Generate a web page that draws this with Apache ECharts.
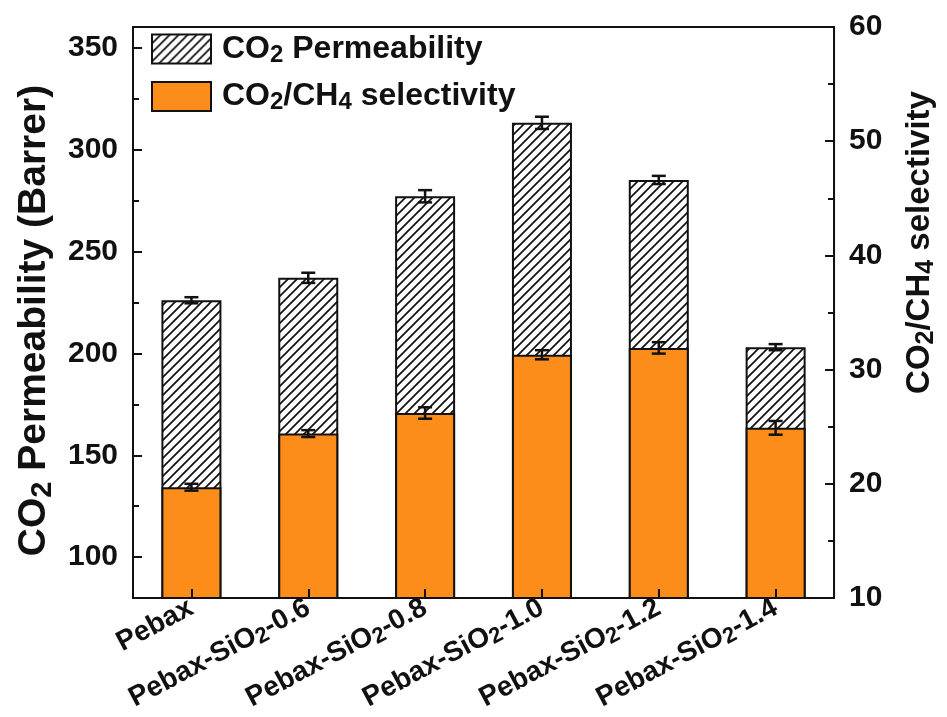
<!DOCTYPE html>
<html>
<head>
<meta charset="utf-8">
<script src="https://cdn.jsdelivr.net/npm/echarts@6/dist/echarts.min.js"></script>
<style>
html,body{margin:0;padding:0;background:#fff;}
#chart{width:947px;height:717px;}
</style>
</head>
<body>
<div id="chart"></div>
<script>
// ---- data ----
const categories = ['Pebax', 'Pebax-SiO2-0.6', 'Pebax-SiO2-0.8', 'Pebax-SiO2-1.0', 'Pebax-SiO2-1.2', 'Pebax-SiO2-1.4'];
const permeability = [226, 237, 277, 313, 285, 203];
const permeabilityErr = [1.5, 2.5, 3, 3, 2, 1.5];
const selectivity = [19.7, 24.4, 26.2, 31.3, 31.9, 24.9];
const selectivityErr = [0.3, 0.3, 0.5, 0.4, 0.5, 0.6];
const leftTicks = [100, 150, 200, 250, 300, 350];
const leftMinorTicks = [125, 175, 225, 275, 325];
const rightTicks = [10, 20, 30, 40, 50, 60];

const FONT = 'Liberation Sans, Arial, sans-serif';

// hatch pattern
const pc = document.createElement('canvas');
pc.width = 9; pc.height = 9;
const g = pc.getContext('2d');
g.fillStyle = '#fff'; g.fillRect(0, 0, 9, 9);
g.strokeStyle = '#111'; g.lineWidth = 1.7;
g.beginPath();
g.moveTo(-1, 10); g.lineTo(10, -1);
g.moveTo(-1, 1); g.lineTo(1, -1);
g.moveTo(8, 10); g.lineTo(10, 8);
g.stroke();
const hatch = { image: pc, repeat: 'repeat' };

const ORANGE = '#FC8D1A';

function subRich(main, sub) {
  return {
    b: { fontSize: main, fontWeight: 'bold', fontFamily: FONT, color: '#111', lineHeight: main * 1.15 },
    s: { fontSize: sub, fontWeight: 'bold', fontFamily: FONT, color: '#111', verticalAlign: 'bottom', lineHeight: sub * 0.7 }
  };
}

function catLabel(name) {
  const parts = name.split('SiO2');
  if (parts.length === 1) return '{b|' + name + '}';
  return '{b|' + parts[0] + 'SiO}{s|2}{b|' + parts[1] + '}';
}

function errRender() {
  return function (params, api) {
    const i = api.value(0), v = api.value(1), e = api.value(2);
    const t = api.coord([i, v + e]);
    const b = api.coord([i, v - e]);
    const hw = 7;
    const st = { stroke: '#111', lineWidth: 2.5 };
    return {
      type: 'group',
      children: [
        { type: 'line', shape: { x1: t[0], y1: t[1], x2: b[0], y2: b[1] }, style: st },
        { type: 'line', shape: { x1: t[0] - hw, y1: t[1], x2: t[0] + hw, y2: t[1] }, style: st },
        { type: 'line', shape: { x1: b[0] - hw, y1: b[1], x2: b[0] + hw, y2: b[1] }, style: st }
      ]
    };
  };
}

const chart = echarts.init(document.getElementById('chart'));
chart.setOption({
  animation: false,
  backgroundColor: '#fff',
  grid: { left: 133, right: 109, top: 27, bottom: 119, show: true, borderColor: '#111', borderWidth: 2, backgroundColor: 'transparent' },
  legend: {
    orient: 'vertical', left: 146, top: 28, itemWidth: 59, itemHeight: 29, itemGap: 13,
    icon: 'rect',
    data: ['CO2 Permeability', 'CO2/CH4 selectivity'],
    formatter: function (name) {
      if (name === 'CO2 Permeability') return '{p|}{b|CO}{s|2}{b| Permeability}';
      return '{p|}{b|CO}{s|2}{b|/CH}{s|4}{b| selectivity}';
    },
    textStyle: { rich: Object.assign(subRich(32, 24), { p: { width: 6 } }) }
  },
  xAxis: {
    type: 'category', data: categories, z: 5,
    axisLine: { lineStyle: { color: '#111', width: 2 } },
    axisTick: { show: true, inside: true, length: 9, alignWithLabel: true, lineStyle: { color: '#111', width: 2 } },
    axisLabel: { rotate: 28, margin: 8, formatter: catLabel, rich: subRich(28, 22), interval: 0 }
  },
  yAxis: [
    {
      type: 'value', position: 'left', min: 80, max: 360,
      name: '{b|CO}{s|2}{b| Permeability (Barrer)}', nameLocation: 'middle', nameRotate: 90, nameGap: 70,
      nameTextStyle: { rich: subRich(39, 29), padding: [0, 16, 0, 0] },
      axisLine: { show: true, lineStyle: { color: '#111', width: 2 } },
      axisTick: { show: true, inside: true, length: 9, customValues: leftTicks, lineStyle: { color: '#111', width: 2 } },
      axisLabel: { customValues: leftTicks, margin: 15, fontSize: 30, fontWeight: 'bold', fontFamily: FONT, color: '#111' },
      splitLine: { show: false }
    },
    {
      type: 'value', position: 'right', min: 10, max: 60, interval: 10,
      name: '{b|CO}{s|2}{b|/CH}{s|4}{b| selectivity}', nameLocation: 'middle', nameRotate: 90, nameGap: 67,
      nameTextStyle: { rich: subRich(33, 25), padding: [0, 0, 0, 140] },
      axisLine: { show: true, lineStyle: { color: '#111', width: 2 } },
      axisTick: { show: true, inside: true, length: 9, lineStyle: { color: '#111', width: 2 } },
      minorTick: { show: true, splitNumber: 2, length: 6, lineStyle: { color: '#111', width: 2 } },
      axisLabel: { customValues: rightTicks, margin: 15, fontSize: 30, fontWeight: 'bold', fontFamily: FONT, color: '#111' },
      splitLine: { show: false }, minorSplitLine: { show: false }
    },
    {
      type: 'value', position: 'left', min: 80, max: 360,
      axisLine: { show: false },
      axisTick: { show: true, inside: true, length: 6, customValues: leftMinorTicks, lineStyle: { color: '#111', width: 2 } },
      axisLabel: { show: false },
      splitLine: { show: false }
    }
  ],
  series: [
    {
      name: 'CO2 Permeability', type: 'bar', yAxisIndex: 0, data: permeability,
      barWidth: 60, barGap: '-100%',
      itemStyle: { color: hatch, borderColor: '#111', borderWidth: 2 }
    },
    {
      name: 'CO2/CH4 selectivity', type: 'bar', yAxisIndex: 1, data: selectivity,
      barWidth: 60, barGap: '-100%',
      itemStyle: { color: ORANGE, borderColor: '#111', borderWidth: 2 }
    },
    {
      type: 'custom', yAxisIndex: 0, z: 10, renderItem: errRender(),
      encode: { x: 0, y: 1 },
      data: permeability.map((v, i) => [i, v, permeabilityErr[i]])
    },
    {
      type: 'custom', yAxisIndex: 1, z: 10, renderItem: errRender(),
      encode: { x: 0, y: 1 },
      data: selectivity.map((v, i) => [i, v, selectivityErr[i]])
    }
  ]
});
</script>
</body>
</html>
